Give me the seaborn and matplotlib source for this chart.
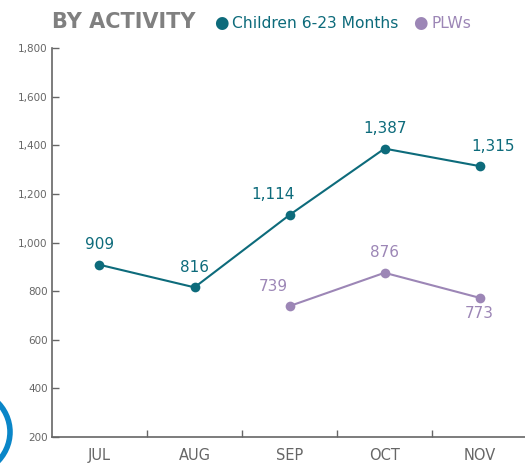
import seaborn as sns
import matplotlib.pyplot as plt
import matplotlib.patches as mpatches
import pandas as pd
import numpy as np

sns.set_style("white")
plt.rcParams['font.family'] = ['DejaVu Sans']

# data
months = ["JUL", "AUG", "SEP", "OCT", "NOV"]
children = [909, 816, 1114, 1387, 1315]
plws = [np.nan, np.nan, 739, 876, 773]

teal = "#0d6b7b"
purple = "#9c86b6"
grey = "#666666"

df = pd.DataFrame({"pos": np.arange(len(months)), "month": months,
                   "children": children, "plws": plws})

fig = plt.figure(figsize=(5.25, 4.73), dpi=100)
ax = fig.add_axes([0.099, 0.076, 0.905, 0.822])

sns.lineplot(data=df, x="pos", y="children", color=teal, marker="o",
             markersize=7, markeredgewidth=0, linewidth=1.5, ax=ax)
sns.lineplot(data=df.dropna(), x="pos", y="plws", color=purple, marker="o",
             markersize=7, markeredgewidth=0, linewidth=1.5, ax=ax)

# value labels (offsets in points)
offs_c = [(0, 9), (0, 9), (-12, 9), (0, 9), (10, 9)]
offs_p = [None, None, (-12, 9), (0, 9), (0, -17)]
for i, v in enumerate(children):
    ax.annotate(f"{v:,}", (i, v), xytext=offs_c[i], textcoords="offset points",
                ha="center", va="bottom", color=teal, fontsize=11)
for i, v in enumerate(plws):
    if np.isnan(v):
        continue
    ax.annotate(f"{int(v):,}", (i, v), xytext=offs_p[i], textcoords="offset points",
                ha="center", va="bottom", color=purple, fontsize=11)

ax.set_xlim(-0.5, 4.5)
ax.set_ylim(200, 1800)
ax.set_yticks(range(200, 1801, 200))
ax.set_yticklabels([f"{t:,}" for t in range(200, 1801, 200)], fontsize=7.5, color=grey)
ax.set_xticks(range(len(months)))
ax.set_xticklabels(months, fontsize=10.5, color=grey)
ax.set_xticks(np.arange(0.5, 4, 1), minor=True)
ax.tick_params(axis="x", which="both", bottom=True)
ax.tick_params(axis="x", which="major", length=0, pad=8)
ax.tick_params(axis="x", which="minor", direction="in", length=5, color=grey, width=1)
ax.tick_params(axis="y", left=True, direction="in", length=5, color=grey, width=1, pad=3)
ax.set_xlabel("")
ax.set_ylabel("")
sns.despine(ax=ax)
for s in ["left", "bottom"]:
    ax.spines[s].set_color(grey)
    ax.spines[s].set_linewidth(1.2)

# title and legend
fig.text(0.10, 0.953, "BY ACTIVITY", fontsize=15, fontweight="bold", color="#808080", va="center")
fig.text(0.407, 0.951, "●", fontsize=12, color=teal, va="center", ha="left")
fig.text(0.441, 0.951, "Children 6-23 Months", fontsize=11.2, color=teal, va="center")
fig.text(0.787, 0.951, "●", fontsize=12, color=purple, va="center", ha="left")
fig.text(0.822, 0.951, "PLWs", fontsize=11.2, color=purple, va="center")

# partial blue ring on the left edge
ring = mpatches.Circle((-40 / 525, 1 - 432 / 473), 50 / 525, transform=fig.transFigure,
                       fill=False, edgecolor="#0a86c8", linewidth=4, clip_on=False)
fig.patches.append(ring)

plt.savefig("out.png", dpi=100)
